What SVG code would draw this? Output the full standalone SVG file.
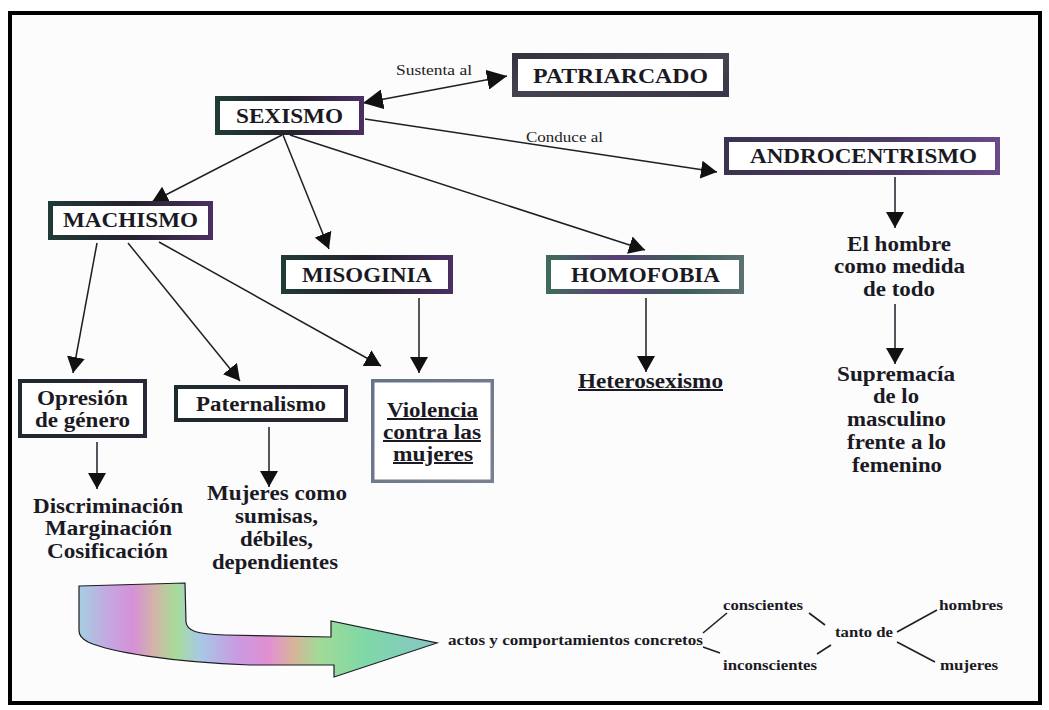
<svg xmlns="http://www.w3.org/2000/svg" width="1049" height="710" viewBox="0 0 1049 710">
  <defs>
    <style>
      .lbl { font-weight: bold; fill: #1b1a24; text-anchor: middle; }
      .big { font-size: 20px; }
      .small { font-size: 15px; }
      .note { font-size: 15px; fill: #222; }
      .box { fill: #ffffff; }
      .edge { fill: none; stroke: #1f1e28; stroke-width: 1.5; }
      .thin { fill: none; stroke: #1f1e28; stroke-width: 1.6; }
      .und { text-decoration: underline; }
    </style>
    <marker id="head" markerUnits="userSpaceOnUse" markerWidth="18" markerHeight="18" refX="16" refY="9" orient="auto">
      <path d="M0,0 L16,9 L0,18 Z" fill="#111"/>
    </marker>
    <marker id="headBig" markerUnits="userSpaceOnUse" markerWidth="22" markerHeight="20" refX="20" refY="10" orient="auto-start-reverse">
      <path d="M0,0 L20,10 L0,20 Z" fill="#111"/>
    </marker>
    <!-- box edge tints -->
    <linearGradient id="gGray" x1="0" y1="0" x2="1" y2="1">
      <stop offset="0" stop-color="#34343f"/>
      <stop offset="0.5" stop-color="#45434f"/>
      <stop offset="1" stop-color="#3a3848"/>
    </linearGradient>
    <linearGradient id="gTealPurple" x1="0" y1="0" x2="1" y2="0">
      <stop offset="0" stop-color="#1f3b36"/>
      <stop offset="0.5" stop-color="#25222e"/>
      <stop offset="1" stop-color="#4a2f62"/>
    </linearGradient>
    <linearGradient id="gPurple" x1="0" y1="0" x2="1" y2="0">
      <stop offset="0" stop-color="#3b3350"/>
      <stop offset="0.6" stop-color="#4d3a66"/>
      <stop offset="1" stop-color="#6a4a88"/>
    </linearGradient>
    <linearGradient id="gMix" x1="0" y1="0" x2="1" y2="0">
      <stop offset="0" stop-color="#3f6a5c"/>
      <stop offset="0.35" stop-color="#5a3e7a"/>
      <stop offset="0.7" stop-color="#3d5e5a"/>
      <stop offset="1" stop-color="#5b7070"/>
    </linearGradient>
    <linearGradient id="gSlate" x1="0" y1="0" x2="1" y2="1">
      <stop offset="0" stop-color="#667488"/>
      <stop offset="1" stop-color="#7b7f92"/>
    </linearGradient>
    <linearGradient id="gDark" x1="0" y1="0" x2="1" y2="0">
      <stop offset="0" stop-color="#1e2a30"/>
      <stop offset="1" stop-color="#2c2638"/>
    </linearGradient>
    <!-- rainbow fill for the bent arrow -->
    <linearGradient id="rainbow" gradientUnits="userSpaceOnUse" x1="79" y1="0" x2="437" y2="0">
      <stop offset="0" stop-color="#a4cfe2"/>
      <stop offset="0.08" stop-color="#c4a8e2"/>
      <stop offset="0.15" stop-color="#d690d8"/>
      <stop offset="0.21" stop-color="#d2b4a8"/>
      <stop offset="0.27" stop-color="#a6dc98"/>
      <stop offset="0.34" stop-color="#a8c8e6"/>
      <stop offset="0.44" stop-color="#c89be2"/>
      <stop offset="0.53" stop-color="#e28fd2"/>
      <stop offset="0.6" stop-color="#d8b49a"/>
      <stop offset="0.67" stop-color="#a2da96"/>
      <stop offset="0.8" stop-color="#7fd8a8"/>
      <stop offset="1" stop-color="#86c6c6"/>
    </linearGradient>
  </defs>

  <!-- page -->
  <rect x="0" y="0" width="1049" height="710" fill="#ffffff"/>
  <rect x="10" y="13" width="1030" height="690" fill="#fcfcfc" stroke="#000" stroke-width="4"/>

  <!-- connectors -->
  <g id="connectors">
    <line class="thin" x1="363" y1="103" x2="507" y2="76" stroke-width="2.6" marker-start="url(#headBig)" marker-end="url(#headBig)"/>
    <line class="edge" x1="365" y1="119" x2="717" y2="172" marker-end="url(#head)"/>
    <line class="edge" x1="282" y1="135" x2="152" y2="202" marker-end="url(#head)"/>
    <line class="edge" x1="283" y1="135" x2="329" y2="249" marker-end="url(#head)"/>
    <line class="edge" x1="290" y1="135" x2="645" y2="250" marker-end="url(#head)"/>
    <line class="edge" x1="97" y1="243" x2="73" y2="373" marker-end="url(#head)"/>
    <line class="edge" x1="128" y1="243" x2="240" y2="381" marker-end="url(#head)"/>
    <line class="edge" x1="159" y1="242" x2="381" y2="366" marker-end="url(#head)"/>
    <line class="edge" x1="419" y1="298" x2="419" y2="373" marker-end="url(#head)"/>
    <line class="edge" x1="646" y1="298" x2="646" y2="372" marker-end="url(#head)"/>
    <line class="edge" x1="895" y1="177" x2="895" y2="228" marker-end="url(#head)"/>
    <line class="edge" x1="895" y1="304" x2="895" y2="364" marker-end="url(#head)"/>
    <line class="edge" x1="97" y1="442" x2="97" y2="489" marker-end="url(#head)"/>
    <line class="edge" x1="269" y1="427" x2="269" y2="487" marker-end="url(#head)"/>
    <!-- branches of the lower sentence -->
    <line class="thin" x1="703" y1="633" x2="727" y2="613"/>
    <line class="thin" x1="703" y1="647" x2="720" y2="653"/>
    <line class="thin" x1="809" y1="613" x2="825" y2="625"/>
    <line class="thin" x1="817" y1="654" x2="831" y2="645"/>
    <line class="thin" x1="897" y1="632" x2="937" y2="610"/>
    <line class="thin" x1="897" y1="642" x2="935" y2="662"/>
  </g>

  <g font-family="'Liberation Serif', 'Times New Roman', serif">
  <!-- link labels -->
  <text class="note" x="396" y="75" textLength="76" lengthAdjust="spacingAndGlyphs">Sustenta al</text>
  <text class="note" x="526" y="142" textLength="77" lengthAdjust="spacingAndGlyphs">Conduce al</text>

  <g id="patriarcado">
    <rect class="box" x="515" y="56" width="211" height="38" stroke="url(#gGray)" stroke-width="6"/>
    <text class="lbl big" x="620.5" y="83" textLength="175" lengthAdjust="spacingAndGlyphs">PATRIARCADO</text>
  </g>
  <g id="sexismo">
    <rect class="box" x="217.5" y="98.5" width="144" height="34" stroke="url(#gTealPurple)" stroke-width="5"/>
    <text class="lbl big" x="289.5" y="123" textLength="107" lengthAdjust="spacingAndGlyphs">SEXISMO</text>
  </g>
  <g id="androcentrismo">
    <rect class="box" x="726.5" y="139.5" width="271" height="33" stroke="url(#gPurple)" stroke-width="5"/>
    <text class="lbl big" x="863.5" y="163" textLength="227" lengthAdjust="spacingAndGlyphs">ANDROCENTRISMO</text>
  </g>
  <g id="machismo">
    <rect class="box" x="50.5" y="203.5" width="160" height="34" stroke="url(#gTealPurple)" stroke-width="5"/>
    <text class="lbl big" x="130.5" y="227" textLength="135" lengthAdjust="spacingAndGlyphs">MACHISMO</text>
  </g>
  <g id="misoginia">
    <rect class="box" x="283.5" y="257.5" width="167" height="34" stroke="url(#gTealPurple)" stroke-width="5"/>
    <text class="lbl big" x="367" y="282" textLength="130" lengthAdjust="spacingAndGlyphs">MISOGINIA</text>
  </g>
  <g id="homofobia">
    <rect class="box" x="548.5" y="257.5" width="193" height="34" stroke="url(#gMix)" stroke-width="5"/>
    <text class="lbl big" x="645.5" y="282" textLength="149" lengthAdjust="spacingAndGlyphs">HOMOFOBIA</text>
  </g>
  <g id="opresion">
    <rect class="box" x="20" y="381" width="125" height="55" stroke="url(#gDark)" stroke-width="4"/>
    <text class="lbl big" x="82.5" y="405" textLength="91" lengthAdjust="spacingAndGlyphs">Opresión</text>
    <text class="lbl big" x="82.5" y="427" textLength="95" lengthAdjust="spacingAndGlyphs">de género</text>
  </g>
  <g id="paternalismo">
    <rect class="box" x="176" y="387" width="170" height="33" stroke="url(#gDark)" stroke-width="4"/>
    <text class="lbl big" x="261" y="411" textLength="130" lengthAdjust="spacingAndGlyphs">Paternalismo</text>
  </g>
  <g id="violencia">
    <rect class="box" x="372.75" y="380.75" width="119.5" height="100.5" stroke="url(#gSlate)" stroke-width="3.5"/>
    <text class="lbl big und" x="432.5" y="417" textLength="91" lengthAdjust="spacingAndGlyphs">Violencia</text>
    <text class="lbl big und" x="432" y="439" textLength="98" lengthAdjust="spacingAndGlyphs">contra las</text>
    <text class="lbl big und" x="433" y="461" textLength="80" lengthAdjust="spacingAndGlyphs">mujeres</text>
  </g>
  <g id="heterosexismo">
    <text class="lbl big und" x="650.5" y="388" textLength="145" lengthAdjust="spacingAndGlyphs">Heterosexismo</text>
  </g>
  <g id="medida">
    <text class="lbl big" x="899" y="251" textLength="104" lengthAdjust="spacingAndGlyphs">El hombre</text>
    <text class="lbl big" x="899.5" y="273" textLength="131" lengthAdjust="spacingAndGlyphs">como medida</text>
    <text class="lbl big" x="899" y="296" textLength="72" lengthAdjust="spacingAndGlyphs">de todo</text>
  </g>
  <g id="supremacia">
    <text class="lbl big" x="896" y="381" textLength="118" lengthAdjust="spacingAndGlyphs">Supremacía</text>
    <text class="lbl big" x="896" y="403" textLength="46" lengthAdjust="spacingAndGlyphs">de lo</text>
    <text class="lbl big" x="896.5" y="426" textLength="99" lengthAdjust="spacingAndGlyphs">masculino</text>
    <text class="lbl big" x="896.5" y="449" textLength="99" lengthAdjust="spacingAndGlyphs">frente a lo</text>
    <text class="lbl big" x="897" y="472" textLength="90" lengthAdjust="spacingAndGlyphs">femenino</text>
  </g>
  <g id="discriminacion">
    <text class="lbl big" x="108" y="513" textLength="150" lengthAdjust="spacingAndGlyphs">Discriminación</text>
    <text class="lbl big" x="108.5" y="535" textLength="127" lengthAdjust="spacingAndGlyphs">Marginación</text>
    <text class="lbl big" x="107.5" y="558" textLength="121" lengthAdjust="spacingAndGlyphs">Cosificación</text>
  </g>
  <g id="mujeres-como">
    <text class="lbl big" x="277" y="500" textLength="140" lengthAdjust="spacingAndGlyphs">Mujeres como</text>
    <text class="lbl big" x="276.5" y="523" textLength="83" lengthAdjust="spacingAndGlyphs">sumisas,</text>
    <text class="lbl big" x="276.5" y="546" textLength="73" lengthAdjust="spacingAndGlyphs">débiles,</text>
    <text class="lbl big" x="275" y="569" textLength="126" lengthAdjust="spacingAndGlyphs">dependientes</text>
  </g>

  <!-- bent rainbow arrow -->
  <g id="flecha">
    <path d="M79,586 L185,583 L186,622 C187,631 196,634 225,635 L331,637 L331,621 L437,643 L334,677 L334,665 L250,665 C170,662 110,652 88,642 C81,638 79,635 79,630 Z" fill="url(#rainbow)" stroke="#1d1d24" stroke-width="1.2"/>
  </g>

  <g id="actos">
    <text class="lbl small" x="575.5" y="645" textLength="255" lengthAdjust="spacingAndGlyphs">actos y comportamientos concretos</text>
  </g>
  <g id="conscientes">
    <text class="lbl small" x="763" y="610" textLength="80" lengthAdjust="spacingAndGlyphs">conscientes</text>
  </g>
  <g id="inconscientes">
    <text class="lbl small" x="770" y="670" textLength="94" lengthAdjust="spacingAndGlyphs">inconscientes</text>
  </g>
  <g id="tanto-de">
    <text class="lbl small" x="864" y="637" textLength="58" lengthAdjust="spacingAndGlyphs">tanto de</text>
  </g>
  <g id="hombres">
    <text class="lbl small" x="971" y="610" textLength="64" lengthAdjust="spacingAndGlyphs">hombres</text>
  </g>
  <g id="mujeres">
    <text class="lbl small" x="969" y="670" textLength="58" lengthAdjust="spacingAndGlyphs">mujeres</text>
  </g>
  </g>
</svg>
